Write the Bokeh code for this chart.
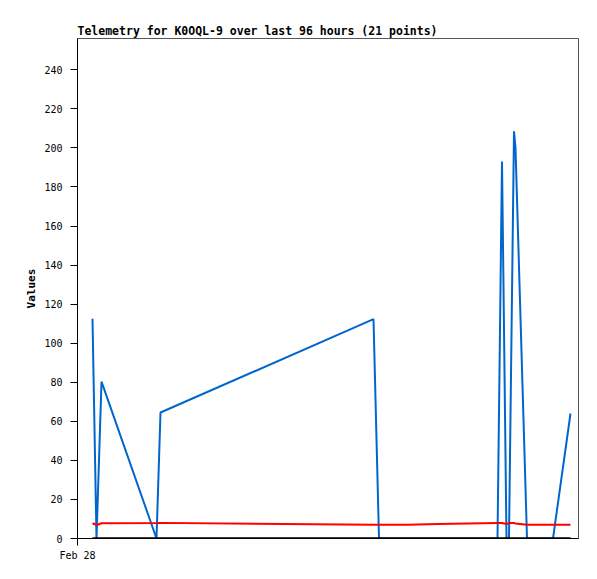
from bokeh.plotting import figure
from bokeh.models import Range1d, FixedTicker, ColumnDataSource
from bokeh.embed import file_html
from bokeh.resources import INLINE

# hours since Feb 28 00:00
hours = [3.0, 3.8, 4.8, 15.8, 16.6, 59.2, 60.3, 66.0, 72.0, 78.0, 84.0,
         84.9, 85.8, 86.3, 87.3, 87.6, 89.9, 91.2, 92.6, 95.1, 98.6]
blue_vals = [112.5, 0, 80.3, 0, 64.5, 112.3, 0, 0, 0, 0, 0,
             193, 0, 0, 208.5, 200, 0, 0, 0, 0, 64]
red_vals = [7.8, 6.9, 7.8, 7.9, 8.0, 7.0, 7.0, 7.1, 7.4, 7.7, 7.9,
            7.9, 7.4, 7.9, 7.9, 7.7, 7.0, 7.0, 7.0, 7.0, 7.0]
black_vals = [0] * 21

y_ticks = [0, 20, 40, 60, 80, 100, 120, 140, 160, 180, 200, 220, 240]
x_tick_labels = {0: "Feb 28"}

src = ColumnDataSource(dict(h=hours, b=blue_vals, r=red_vals, k=black_vals))

p = figure(width=589, height=568, output_backend="svg", toolbar_location=None,
           x_range=Range1d(0, 100.2), y_range=Range1d(0, 256),
           min_border_left=77, min_border_right=11, min_border_top=38,
           min_border_bottom=30)

p.title.text = "Telemetry for K0OQL-9 over last 96 hours (21 points)"
p.title.text_font = "DejaVu Sans Mono"
p.title.text_font_size = "11.5px"
p.title.text_font_style = "bold"
p.title.text_color = "black"
p.title.align = "left"
p.title.offset = 0
p.title.standoff = 2

p.line("h", "b", source=src, line_color="#0066CC", line_width=2)
p.line("h", "r", source=src, line_color="#FF0000", line_width=2)
p.line("h", "k", source=src, line_color="#000000", line_width=2.5)

p.grid.visible = False
p.outline_line_color = "#555555"
p.outline_line_width = 1
p.background_fill_color = "white"
p.border_fill_color = "white"

p.yaxis.ticker = FixedTicker(ticks=y_ticks)
p.yaxis.axis_label = "Values"
p.yaxis.axis_label_text_font = "DejaVu Sans Mono"
p.yaxis.axis_label_text_font_size = "11px"
p.yaxis.axis_label_text_font_style = "bold"
p.yaxis.axis_label_text_color = "black"
p.yaxis.axis_label_standoff = 3
p.yaxis.major_label_text_font = "DejaVu Sans Mono"
p.yaxis.major_label_text_font_size = "10px"
p.yaxis.major_label_text_color = "black"
p.yaxis.major_label_standoff = 8
p.yaxis.major_tick_out = 7
p.yaxis.major_tick_in = 0
p.yaxis.major_tick_line_color = "black"
p.yaxis.minor_tick_line_color = None
p.yaxis.axis_line_color = "black"

p.xaxis.ticker = FixedTicker(ticks=[0])
p.xaxis.major_label_overrides = x_tick_labels
p.xaxis.major_label_text_font = "DejaVu Sans Mono"
p.xaxis.major_label_text_font_size = "10px"
p.xaxis.major_label_text_color = "black"
p.xaxis.major_label_standoff = 4
p.xaxis.major_tick_out = 7
p.xaxis.major_tick_in = 0
p.xaxis.major_tick_line_color = "black"
p.xaxis.minor_tick_line_color = None
p.xaxis.axis_line_color = "black"

open("out.html", "w").write(file_html(p, INLINE))
